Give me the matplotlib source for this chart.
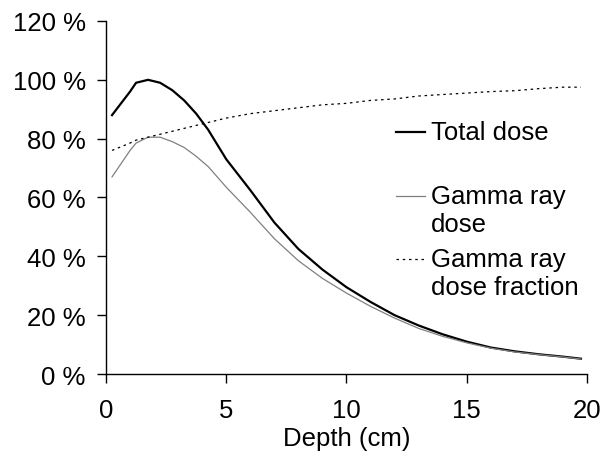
import numpy as np
import matplotlib
matplotlib.use("Agg")
import matplotlib.pyplot as plt
from matplotlib.lines import Line2D

plt.rcParams['font.family'] = ['Liberation Sans', 'DejaVu Sans']

depth = [0.25, 1.0, 1.25, 1.75, 2.25, 2.75, 3.25, 3.75, 4.25, 5, 6, 7, 8, 9, 10, 11, 12, 13, 14, 15, 16, 17, 18, 19, 19.75]
total_dose = [88, 96, 99, 100, 99, 96.5, 93, 88.5, 83, 73, 62.5, 51.5, 42.5, 35.5, 29.5, 24.5, 20, 16.5, 13.5, 11, 9, 7.7, 6.7, 5.9, 5.2]
gamma_dose = [67, 76, 78.5, 80.5, 80.5, 79, 77, 74, 70.5, 63.5, 55, 46, 38.5, 32.5, 27.5, 23, 19, 15.5, 12.8, 10.6, 8.8, 7.5, 6.6, 5.8, 5.1]
gamma_frac = [76, 78.5, 79.5, 80.5, 81.5, 82.5, 83.5, 84.5, 85.5, 87, 88.5, 89.5, 90.5, 91.5, 92, 93, 93.5, 94.5, 95, 95.5, 96, 96.3, 97, 97.5, 97.5]

fs = 18.5

fig = plt.figure(figsize=(6.11, 4.56), dpi=100)
ax = fig.add_axes([0.1735, 0.1776, 0.7872, 0.7742])

ax.plot(depth, total_dose, color='black', linewidth=1.6, clip_on=False)
ax.plot(depth, gamma_dose, color='#808080', linewidth=0.9, clip_on=False)
ax.plot(depth, gamma_frac, color='black', linewidth=0.9, linestyle=(0, (2, 3)), clip_on=False)

ax.set_xlim(0, 20)
ax.set_ylim(0, 120)
ax.set_xticks([0, 5, 10, 15, 20])
ax.set_yticks(range(0, 121, 20))
ax.set_yticklabels([f'{v} %' for v in range(0, 121, 20)])
ax.tick_params(direction='out', length=6.5, width=1, labelsize=fs)
ax.tick_params(axis='x', pad=11)
ax.tick_params(axis='y', pad=8)
ax.set_xlabel('Depth (cm)', fontsize=fs, labelpad=3)
for s in ['top', 'right']:
    ax.spines[s].set_visible(False)
for s in ['left', 'bottom']:
    ax.spines[s].set_linewidth(1)

# legend drawn by hand so the line sits on the first text line
entries = [
    (0.686, ['Total dose'], dict(color='black', linewidth=1.6)),
    (0.504, ['Gamma ray', 'dose'], dict(color='#808080', linewidth=0.9)),
    (0.326, ['Gamma ray', 'dose fraction'], dict(color='black', linewidth=0.9, linestyle=(0, (2, 3)))),
]
for y, lines, style in entries:
    ax.add_line(Line2D([0.603, 0.663], [y, y], transform=ax.transAxes, **style))
    for i, t in enumerate(lines):
        ax.text(0.676, y - i * 0.079, t, transform=ax.transAxes, fontsize=fs,
                va='center', ha='left')

fig.savefig('out.png', dpi=100)
